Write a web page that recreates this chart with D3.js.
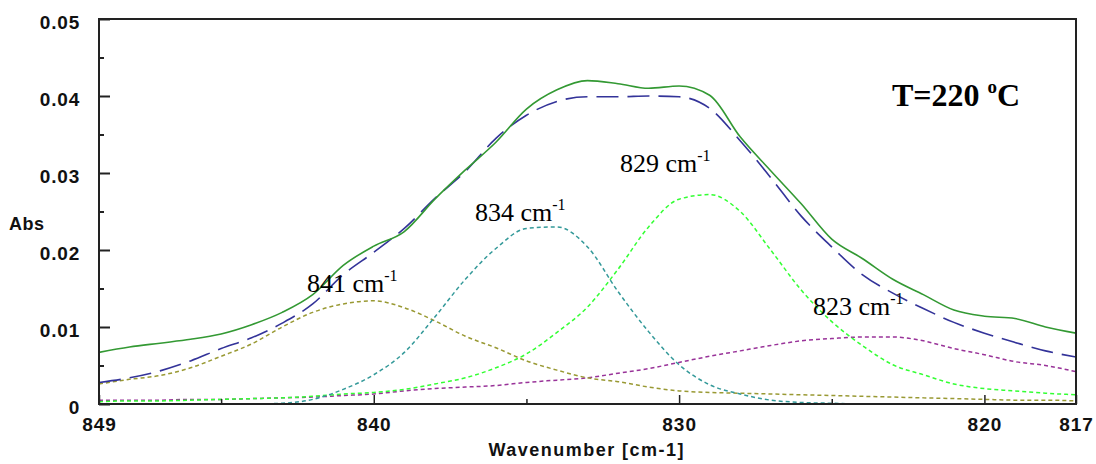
<!DOCTYPE html>
<html><head><meta charset="utf-8">
<script src="https://cdn.jsdelivr.net/npm/d3@7"></script>
<style>
html,body{margin:0;padding:0;background:#fff;}
svg{display:block;}
.tick text{font-family:"Liberation Sans",Arial,sans-serif;font-weight:bold;}
</style></head>
<body>
<svg id="chart" width="1096" height="464"></svg>
<script>
const wavenumbers = [849,848,847,846,845,844,843,842,841,840,839,838,837,836,835,834,833,832,831,830,829,828,827,826,825,824,823,822,821,820,819,818,817];
const envelopeMeasured = [.0067,.0074,.0079,.0084,.0091,.0103,.0119,.0142,.0180,.0205,.0224,.0266,.0304,.0340,.0383,.0408,.0420,.0416,.0410,.0413,.0401,.0347,.0303,.0260,.0214,.0189,.0162,.0142,.0122,.0114,.0111,.0100,.0092];
const envelopeFit = [.0028,.0034,.0043,.0056,.0072,.0086,.0105,.0130,.0168,.0197,.0228,.0267,.0302,.0345,.0375,.0393,.0399,.0399,.0400,.0399,.0384,.0342,.0294,.0244,.0204,.0168,.0144,.0124,.0106,.0092,.0080,.0069,.0061];
const peak841 = [.0026,.0032,.0037,.0047,.0062,.0078,.0100,.0119,.0130,.0134,.0125,.0108,.0088,.0073,.0056,.0044,.0034,.0029,.0022,.0017,.0015,.0014,.0013,.0012,.0011,.0010,.0009,.0008,.0007,.0006,.0005,.0005,.0004];
const peak834 = [0,0,0,0,0,0,.0001,.0006,.0019,.0038,.0067,.0113,.0162,.0202,.0228,.0230,.0204,.0146,.0094,.0051,.0025,.0013,.0005,.0002,.0001,0,0,0,0,0,0,0,0];
const peak829 = [.0003,.0004,.0004,.0005,.0006,.0007,.0008,.0010,.0013,.0015,.0019,.0026,.0034,.0047,.0065,.0093,.0126,.0175,.0230,.0266,.0272,.0250,.0200,.0148,.0107,.0076,.0051,.0038,.0026,.0020,.0017,.0014,.0012];
const peak823 = [.0005,.0005,.0005,.0006,.0006,.0007,.0008,.0009,.0011,.0013,.0017,.0020,.0022,.0024,.0028,.0031,.0034,.0040,.0046,.0054,.0062,.0069,.0076,.0082,.0085,.0087,.0087,.0082,.0072,.0064,.0055,.0050,.0042];
const yMajorTicks = [0,0.01,0.02,0.03,0.04,0.05];
const yMinorTicks = [0.005,0.015,0.025,0.035,0.045];
const yTickLabels = ["0","0.01","0.02","0.03","0.04","0.05"];
const xMajorTicks = [849,840,830,820,817];
const xMinorTicks = [845,835,825];
const peakLabels = ["841 cm","834 cm","829 cm","823 cm"];
const peakLabelPos = [[307,292],[475,221],[620,172],[813,315]];

const svg = d3.select("#chart");
const L=99,R=1076,T=19,B=404;
const x = d3.scaleLinear().domain([849,817]).range([L,R]);
const y = d3.scaleLinear().domain([0,0.05]).range([B,T]);

svg.append("defs").append("clipPath").attr("id","clip")
  .append("rect").attr("x",L).attr("y",T-2).attr("width",R-L).attr("height",B-T+2);

const line = d3.line().x((d,i)=>x(wavenumbers[i])).y(d=>y(d)).curve(d3.curveMonotoneX);
const g = svg.append("g").attr("clip-path","url(#clip)");

const series = [
  {v:peak823, c:"#993399", dash:"4,3", w:1.5},
  {v:peak841, c:"#999933", dash:"4,3", w:1.5},
  {v:peak829, c:"#33ff33", dash:"4,3", w:1.5},
  {v:peak834, c:"#339999", dash:"4,3", w:1.5},
  {v:envelopeFit, c:"#333399", dash:"22,9", w:1.6},
  {v:envelopeMeasured, c:"#339933", dash:null, w:1.6}
];
series.forEach(s=>{
  g.append("path").attr("d",line(s.v)).attr("fill","none")
   .attr("stroke",s.c).attr("stroke-width",s.w)
   .attr("stroke-dasharray",s.dash);
});

// frame
svg.append("rect").attr("x",L).attr("y",T).attr("width",R-L).attr("height",B-T)
  .attr("fill","none").attr("stroke","#222").attr("stroke-width",2);

// y axis
const yMaj = svg.append("g").attr("transform",`translate(${L},0)`)
  .call(d3.axisLeft(y).tickValues(yMajorTicks).tickSizeInner(-11).tickSizeOuter(0)
        .tickPadding(19).tickFormat((d,i)=>yTickLabels[i]));
const yMin = svg.append("g").attr("transform",`translate(${L},0)`)
  .call(d3.axisLeft(y).tickValues(yMinorTicks).tickSizeInner(-5).tickSizeOuter(0).tickFormat(""));
[yMaj,yMin].forEach(a=>{a.select(".domain").remove(); a.selectAll("line").attr("stroke","#222").attr("stroke-width",2);});
yMaj.selectAll("text").attr("font-size",19).attr("fill","#111").attr("dy","0.5em").attr("letter-spacing","0.8px");

// x axis
const xMaj = svg.append("g").attr("transform",`translate(0,${B})`)
  .call(d3.axisBottom(x).tickValues(xMajorTicks).tickSizeInner(-9).tickSizeOuter(0)
        .tickPadding(16).tickFormat(d3.format("d")));
const xMin = svg.append("g").attr("transform",`translate(0,${B})`)
  .call(d3.axisBottom(x).tickValues(xMinorTicks).tickSizeInner(-5).tickSizeOuter(0).tickFormat(""));
[xMaj,xMin].forEach(a=>{a.select(".domain").remove(); a.selectAll("line").attr("stroke","#222").attr("stroke-width",1.5);});
xMaj.selectAll("text").attr("font-size",19).attr("fill","#111").attr("dy","0.6em").attr("letter-spacing","1px");

// axis titles
svg.append("text").attr("x",9).attr("y",230).text("Abs")
  .attr("font-family","Liberation Sans, Arial, sans-serif").attr("font-weight","bold")
  .attr("font-size",18).attr("fill","#111").attr("letter-spacing","0.5px");
svg.append("text").attr("x",586).attr("y",456).attr("text-anchor","middle").text("Wavenumber [cm-1]")
  .attr("font-family","Liberation Sans, Arial, sans-serif").attr("font-weight","bold")
  .attr("font-size",18).attr("fill","#111").attr("textLength",195).attr("lengthAdjust","spacing");

// peak labels
peakLabels.forEach((t,i)=>{
  const tx = svg.append("text").attr("x",peakLabelPos[i][0]).attr("y",peakLabelPos[i][1])
    .attr("font-family","Liberation Serif, Times New Roman, serif").attr("font-size",26).attr("fill","#000");
  tx.append("tspan").text(t);
  tx.append("tspan").text("-1").attr("font-size",16).attr("dy",-11);
});

// temperature
const tt = svg.append("text").attr("x",892).attr("y",106)
  .attr("font-family","Liberation Serif, Times New Roman, serif").attr("font-weight","bold")
  .attr("font-size",32).attr("fill","#000");
tt.append("tspan").text("T=220 ");
tt.append("tspan").text("o").attr("font-size",19).attr("dy",-13);
tt.append("tspan").text("C").attr("dy",13);
</script>
</body></html>
